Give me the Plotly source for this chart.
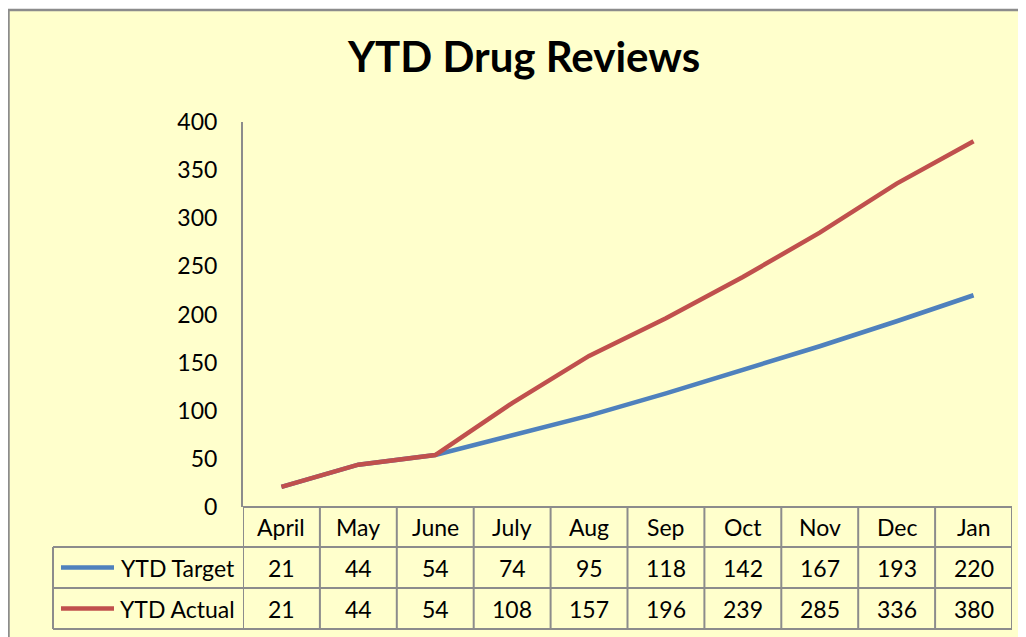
import plotly.graph_objects as go

# data
months = ["April", "May", "June", "July", "Aug", "Sep", "Oct", "Nov", "Dec", "Jan"]
ytd_target = [21, 44, 54, 74, 95, 118, 142, 167, 193, 220]
ytd_actual = [21, 44, 54, 108, 157, 196, 239, 285, 336, 380]
y_ticks = [0, 50, 100, 150, 200, 250, 300, 350, 400]

# page body has an 8px margin, so the figure is smaller and all
# pixel positions below are in figure coordinates (screen - 8)
OFF = 8
W, H = 1026 - OFF, 637 - OFF
L, R, T, B = 243 - OFF, 1012 - OFF, 122 - OFF, 507 - OFF   # plot area

BG = "#FFFFCC"
GRID = "#8C8C8C"
FONT = "Lato"
BLUE = "#4F81BD"
RED = "#C0504D"


def px_x(px):
    return (px - OFF - L) / (R - L)


def px_y(py):
    return (B - (py - OFF)) / (B - T)


fig = go.Figure()
series = [("YTD Target", ytd_target, BLUE), ("YTD Actual", ytd_actual, RED)]
for name, vals, col in series:
    fig.add_trace(go.Scatter(
        x=list(range(len(months))), y=vals, name=name, mode="lines",
        line=dict(color=col, width=4.5), hoverinfo="skip", showlegend=False,
    ))

shapes = []
# chart area background; only its top and left border are inside the picture
shapes.append(dict(type="rect", xref="paper", yref="paper", layer="below",
                   x0=px_x(9), x1=px_x(1026 + 20), y0=px_y(637 + 20), y1=px_y(10),
                   fillcolor=BG, line=dict(width=0)))
shapes.append(dict(type="line", xref="paper", yref="paper", layer="below",
                   x0=px_x(7.5), x1=px_x(1026 + 20), y0=px_y(10), y1=px_y(10),
                   line=dict(color=GRID, width=2.5)))
shapes.append(dict(type="line", xref="paper", yref="paper", layer="below",
                   x0=px_x(8.5), x1=px_x(8.5), y0=px_y(637 + 20), y1=px_y(9),
                   line=dict(color=GRID, width=2.5)))

# data table grid (screen pixel rows)
row_tops = [507, 547, 588, 629]
for i, py in enumerate(row_tops):
    x0 = 243 if i == 0 else 53
    shapes.append(dict(type="line", xref="paper", yref="paper",
                       x0=px_x(x0), x1=1, y0=px_y(py), y1=px_y(py),
                       line=dict(color=GRID, width=2)))
for k in range(len(months) + 1):
    shapes.append(dict(type="line", xref="x", yref="paper",
                       x0=k - 0.5, x1=k - 0.5, y0=px_y(507), y1=px_y(629),
                       line=dict(color=GRID, width=2)))
shapes.append(dict(type="line", xref="paper", yref="paper",
                   x0=px_x(53), x1=px_x(53), y0=px_y(547), y1=px_y(629),
                   line=dict(color=GRID, width=2)))

annotations = []
txt = dict(family=FONT, size=23, color="#000000")
# header row
for k, m in enumerate(months):
    annotations.append(dict(x=k, y=px_y(527), xref="x", yref="paper", text=m,
                            showarrow=False, font=txt, xanchor="center", yanchor="middle"))
# value rows with legend keys
for r, (name, vals, col) in enumerate(series):
    cy = (row_tops[r + 1] + row_tops[r + 2]) / 2
    for k, v in enumerate(vals):
        annotations.append(dict(x=k, y=px_y(cy), xref="x", yref="paper", text=str(v),
                                showarrow=False, font=txt, xanchor="center", yanchor="middle"))
    annotations.append(dict(x=px_x(237), y=px_y(cy), xref="paper", yref="paper", text=name,
                            showarrow=False, font=txt, xanchor="right", yanchor="middle"))
    shapes.append(dict(type="line", xref="paper", yref="paper",
                       x0=px_x(61), x1=px_x(114), y0=px_y(cy), y1=px_y(cy),
                       line=dict(color=col, width=4.5)))

fig.update_layout(
    width=W, height=H,
    margin=dict(l=L, r=W - R, t=T, b=H - B),
    paper_bgcolor="#FFFFFF", plot_bgcolor="rgba(0,0,0,0)",
    title=dict(text="<b>YTD Drug Reviews</b>", x=px_x(524), xref="paper",
               y=1 - (57 - OFF) / H, yanchor="middle", xanchor="center",
               font=dict(family=FONT, size=42, color="#000000")),
    xaxis=dict(range=[-0.5, len(months) - 0.5], showticklabels=False, showgrid=False,
               zeroline=False, showline=False, ticks=""),
    yaxis=dict(range=[0, 400], tickvals=y_ticks, showgrid=False, zeroline=False,
               showline=True, linecolor=GRID, linewidth=2, ticks="",
               ticklabelstandoff=19, tickfont=txt),
    shapes=shapes, annotations=annotations,
    showlegend=False,
)

fig.write_html("out.html")
